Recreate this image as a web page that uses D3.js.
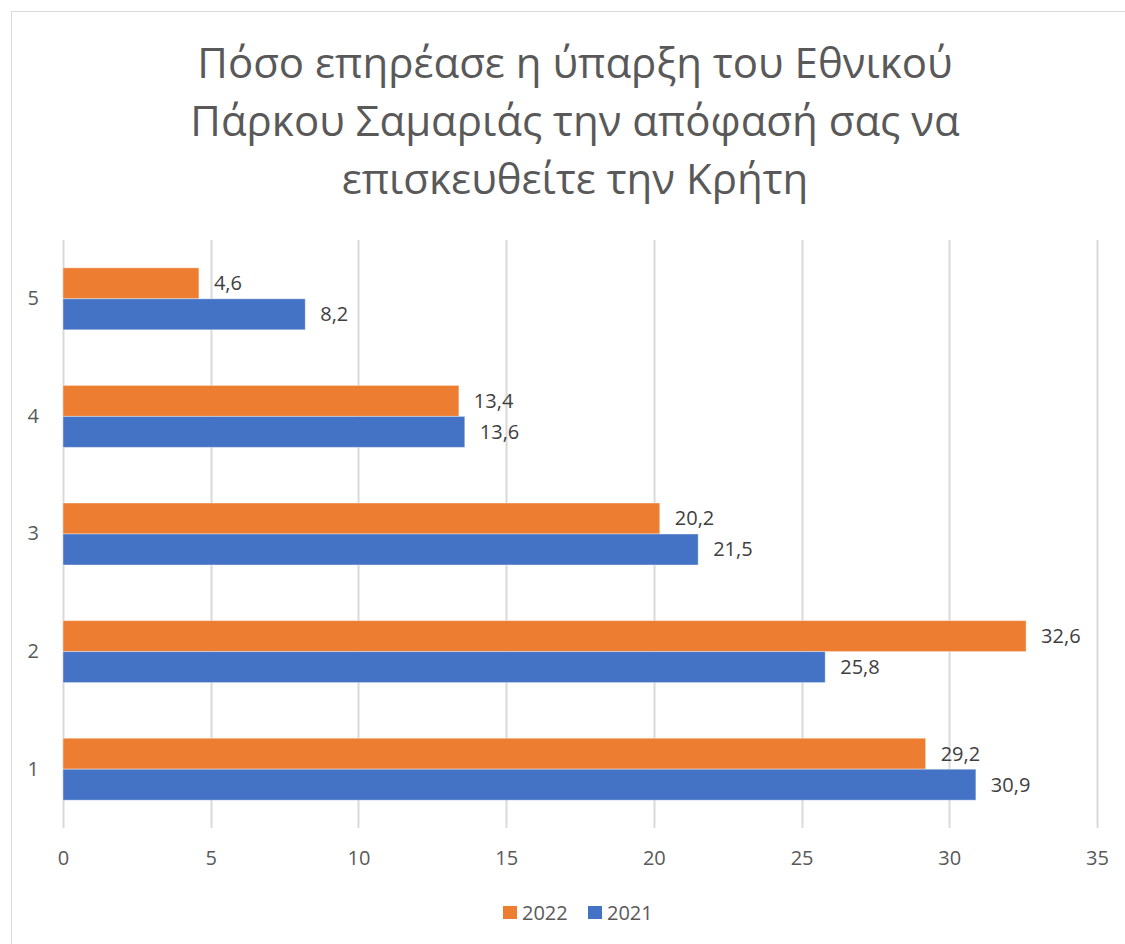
<!DOCTYPE html>
<html>
<head>
<meta charset="utf-8">
<script src="https://cdn.jsdelivr.net/npm/d3@7/dist/d3.min.js"></script>
<style>
  body { margin: 0; background: #fff; }
  text { font-family: "Open Sans", "Noto Sans", sans-serif; }
</style>
</head>
<body>
<div id="chart"></div>
<script>
// Data
var categories = ["1", "2", "3", "4", "5"];
var series = ["2022", "2021"];
var values2022 = [29.2, 32.6, 20.2, 13.4, 4.6];
var values2021 = [30.9, 25.8, 21.5, 13.6, 8.2];
var xTicks = [0, 5, 10, 15, 20, 25, 30, 35];
var titleLines = [
    "Πόσο επηρέασε η ύπαρξη του Εθνικού",
    "Πάρκου Σαμαριάς την απόφασή σας να",
    "επισκευθείτε την Κρήτη"
];
var colors = { "2022": "#ED7D31", "2021": "#4472C4" };

var width = 1125, height = 944;
var margin = { top: 240, right: 28, bottom: 116, left: 63 };

var svg = d3.select("#chart").append("svg")
    .attr("width", width)
    .attr("height", height);

// chart frame
svg.append("rect")
    .attr("x", 11.5)
    .attr("y", 11.5)
    .attr("width", width + 20)
    .attr("height", height + 20)
    .attr("fill", "none")
    .attr("stroke", "#d9d9d9");

// title
svg.append("g")
    .selectAll("text")
    .data(titleLines)
    .enter()
    .append("text")
    .attr("x", 575)
    .attr("y", function(d, i) { return 78 + i * 58; })
    .attr("text-anchor", "middle")
    .attr("font-size", 42)
    .attr("fill", "#595959")
    .text(function(d) { return d; });

var plotH = 828 - margin.top;

var g = svg.append("g")
    .attr("transform", "translate(" + margin.left + "," + margin.top + ")");

var x = d3.scaleLinear()
    .domain([0, 35])
    .range([0, 1097 - margin.left]);

// category 5 on top
var y = d3.scaleBand()
    .domain(categories.slice().reverse())
    .range([0, plotH])
    .paddingInner(0.473)
    .paddingOuter(0.2365);

var y1 = d3.scaleBand()
    .domain(series)
    .range([0, y.bandwidth()]);

// gridlines
g.append("g")
    .selectAll("line")
    .data(xTicks)
    .enter()
    .append("line")
    .attr("x1", function(d) { return Math.round(x(d)) + 0.5; })
    .attr("x2", function(d) { return Math.round(x(d)) + 0.5; })
    .attr("y1", 0)
    .attr("y2", plotH)
    .attr("stroke", "#d9d9d9")
    .attr("stroke-width", 2);

// x axis labels
var xAxis = d3.axisBottom(x)
    .tickValues(xTicks)
    .tickSize(0)
    .tickPadding(23);
var xg = g.append("g")
    .attr("transform", "translate(0," + plotH + ")")
    .call(xAxis);
xg.select(".domain").remove();
xg.selectAll("text")
    .attr("font-size", 20)
    .attr("fill", "#595959")
    .style("font-family", "'Open Sans', 'Noto Sans', sans-serif");

// y axis labels
var yAxis = d3.axisLeft(y)
    .tickSize(0)
    .tickPadding(24);
var yg = g.append("g").call(yAxis);
yg.select(".domain").remove();
yg.selectAll("text")
    .attr("font-size", 20)
    .attr("fill", "#595959")
    .style("font-family", "'Open Sans', 'Noto Sans', sans-serif");

var rows = categories.map(function(c, i) {
    return { cat: c, vals: [
        { key: "2022", v: values2022[i] },
        { key: "2021", v: values2021[i] }
    ] };
});

var groups = g.append("g")
    .selectAll("g")
    .data(rows)
    .enter()
    .append("g")
    .attr("transform", function(d) { return "translate(0," + y(d.cat) + ")"; });

groups.selectAll("rect")
    .data(function(d) { return d.vals; })
    .enter()
    .append("rect")
    .attr("x", 0)
    .attr("y", function(d) { return y1(d.key); })
    .attr("width", function(d) { return x(d.v); })
    .attr("height", y1.bandwidth())
    .attr("fill", function(d) { return colors[d.key]; })
    .attr("stroke", "#fff")
    .attr("stroke-opacity", 0.4)
    .attr("stroke-width", 1);

groups.selectAll("text.lbl")
    .data(function(d) { return d.vals; })
    .enter()
    .append("text")
    .attr("class", "lbl")
    .attr("x", function(d) { return x(d.v) + 15; })
    .attr("y", function(d) { return y1(d.key) + y1.bandwidth() / 2; })
    .attr("dy", "0.35em")
    .attr("font-size", 20)
    .attr("fill", "#404040")
    .text(function(d) { return String(d.v).replace(".", ","); });

// legend
var legend = svg.append("g")
    .selectAll("g")
    .data(series)
    .enter()
    .append("g")
    .attr("transform", function(d, i) { return "translate(" + (503 + i * 85) + ",906)"; });
legend.append("rect")
    .attr("width", 14)
    .attr("height", 13)
    .attr("fill", function(d) { return colors[d]; });
legend.append("text")
    .attr("x", 19)
    .attr("y", 7)
    .attr("dy", "0.35em")
    .attr("font-size", 20)
    .attr("fill", "#595959")
    .text(function(d) { return d; });
</script>
</body>
</html>
